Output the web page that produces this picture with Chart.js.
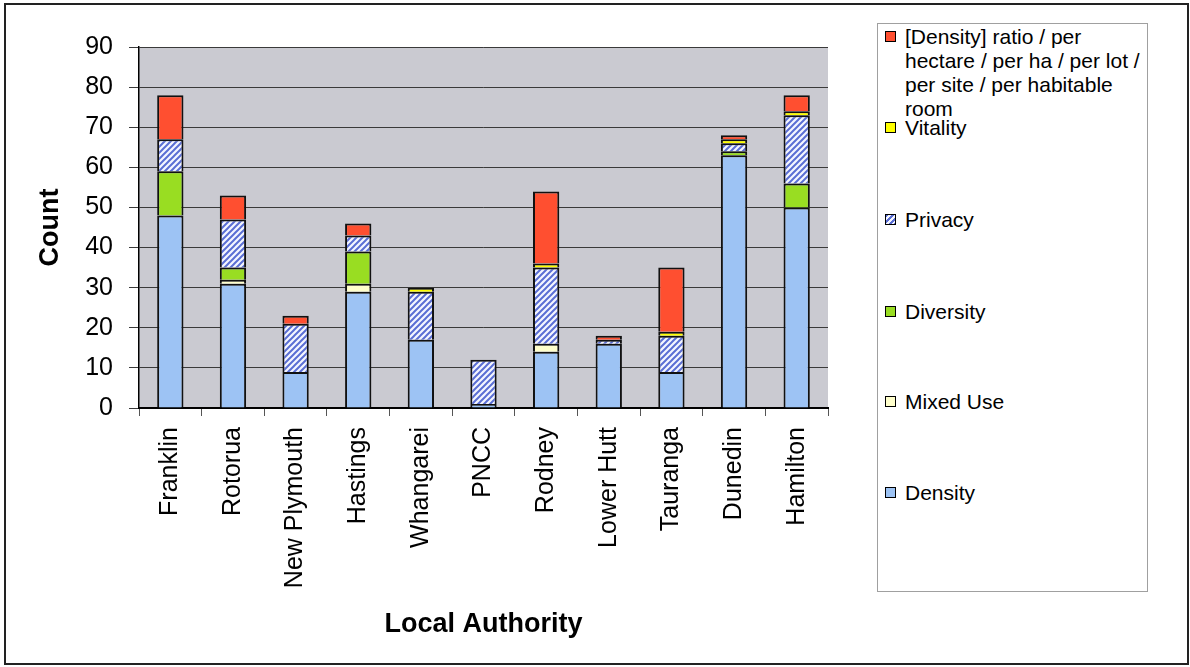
<!DOCTYPE html>
<html>
<head>
<meta charset="utf-8">
<script src="https://cdn.jsdelivr.net/npm/chart.js@4/dist/chart.umd.min.js"></script>
<style>
    body { margin: 0; background: #ffffff; font-family: 'Liberation Sans', Arial, sans-serif; }
    #wrap { position: relative; width: 1190px; height: 667px; }
    #chart { position: absolute; left: 0; top: 0; }
    #frame { position: absolute; left: 4px; top: 3px; width: 1181px; height: 658px; border: 2px solid #222; pointer-events: none; }
    #legend { position: absolute; left: 877px; top: 23px; width: 269px; height: 567px; border: 1px solid #a0a0a0; background: #fff; }
    .item { position: absolute; left: 7px; width: 262px; font-size: 21px; line-height: 24px; color: #000; }
    .swatch { position: absolute; left: 0; top: 6px; width: 9px; height: 9px; border: 1.5px solid #000; }
    .text { position: absolute; left: 20px; width: 240px; }
</style>
</head>
<body>
<div id="wrap">
    <canvas id="chart" width="1190" height="667"></canvas>
    <div id="frame"></div>
    <div id="legend"></div>
</div>
<script>
// Values
const categories = ['Franklin', 'Rotorua', 'New Plymouth', 'Hastings', 'Whangarei', 'PNCC',
    'Rodney', 'Lower Hutt', 'Tauranga', 'Dunedin', 'Hamilton'];
const density   = [48, 31, 9, 29, 17, 1, 14, 16, 9, 63, 50];
const mixedUse  = [0, 1, 0, 2, 0, 0, 2, 0, 0, 0, 0];
const diversity = [11, 3, 0, 8, 0, 0, 0, 0, 0, 1, 6];
const privacy   = [8, 12, 12, 4, 12, 11, 19, 1, 9, 2, 17];
const vitality  = [0, 0, 0, 0, 1, 0, 1, 0, 1, 1, 1];
const ratio     = [11, 6, 2, 3, 0, 0, 18, 1, 16, 1, 4];
const yTicks    = [0, 10, 20, 30, 40, 50, 60, 70, 80, 90];

// hatched fill for Privacy
function makeHatch() {
    const c = document.createElement('canvas');
    c.width = 6; c.height = 6;
    const g = c.getContext('2d');
    g.fillStyle = '#f4f6ff';
    g.fillRect(0, 0, 6, 6);
    g.strokeStyle = '#5a6ed4';
    g.lineWidth = 2;
    g.beginPath();
    g.moveTo(0, 6); g.lineTo(6, 0);
    g.moveTo(-3, 3); g.lineTo(3, -3);
    g.moveTo(3, 9); g.lineTo(9, 3);
    g.stroke();
    return g.createPattern(c, 'repeat');
}

const series = [
    { label: 'Density', data: density, color: '#9dc3f4' },
    { label: 'Mixed Use', data: mixedUse, color: '#ffffcc' },
    { label: 'Diversity', data: diversity, color: '#99dd22' },
    { label: 'Privacy', data: privacy, color: makeHatch(), swatch: 'repeating-linear-gradient(135deg, #5a6ed4 0 2px, #f4f6ff 2px 4px)' },
    { label: 'Vitality', data: vitality, color: '#ffff00' },
    { label: '[Density] ratio / per hectare / per ha / per lot / per site / per habitable room', data: ratio, color: '#ff4f30' }
];

const plotBackground = {
    id: 'plotBackground',
    beforeDraw(chart) {
        const a = chart.chartArea;
        const ctx = chart.ctx;
        ctx.save();
        ctx.fillStyle = '#cacad1';
        ctx.fillRect(a.left, a.top, a.right - a.left, a.bottom - a.top);
        ctx.restore();
    }
};

const font = "'Liberation Sans', Arial, sans-serif";

new Chart(document.getElementById('chart'), {
    type: 'bar',
    data: {
        labels: categories,
        datasets: series.map(s => ({
            label: s.label,
            // empty segments are skipped so they leave no outline
            data: s.data.map(v => (v === 0 ? null : v)),
            backgroundColor: s.color,
            borderColor: '#111111',
            // no bottom edge: the segment below draws the separating line
            borderWidth: { top: 2, left: 2, right: 2, bottom: 0 },
            borderSkipped: false,
            barPercentage: 0.42,
            categoryPercentage: 1.0
        }))
    },
    plugins: [plotBackground],
    options: {
        responsive: false,
        animation: false,
        devicePixelRatio: 1,
        layout: { padding: { left: 0, top: 47, right: 362, bottom: 0 } },
        plugins: {
            legend: { display: false },
            tooltip: { enabled: false }
        },
        scales: {
            x: {
                stacked: true,
                afterFit: scale => { scale.height = 259; },
                grid: { drawOnChartArea: false, tickLength: 8, color: '#555555' },
                border: { color: '#000000', width: 2 },
                ticks: {
                    autoSkip: false,
                    minRotation: 90,
                    maxRotation: 90,
                    padding: 11,
                    color: '#000000',
                    font: { family: font, size: 25 }
                },
                title: {
                    display: true,
                    text: 'Local Authority',
                    color: '#000000',
                    padding: { top: 0, bottom: 26 },
                    font: { family: font, size: 27, weight: 'bold' }
                }
            },
            y: {
                stacked: true,
                min: 0,
                max: 90,
                afterFit: scale => { scale.width = 139; },
                afterBuildTicks: scale => { scale.ticks = yTicks.map(v => ({ value: v })); },
                grid: { color: '#3a3a3a', lineWidth: 1, tickLength: 10 },
                border: { color: '#000000', width: 1.5 },
                ticks: {
                    padding: 16,
                    color: '#000000',
                    font: { family: font, size: 25 }
                },
                title: {
                    display: true,
                    text: 'Count',
                    color: '#000000',
                    padding: { top: 34, bottom: 0 },
                    font: { family: font, size: 27, weight: 'bold' }
                }
            }
        }
    }
});

// legend, top entry first like the reference
const legendTops = [1, 92, 184, 276, 366, 457];
const legend = document.getElementById('legend');
series.slice().reverse().forEach((s, i) => {
    const item = document.createElement('div');
    item.className = 'item';
    item.style.top = legendTops[i] + 'px';
    const sw = document.createElement('div');
    sw.className = 'swatch';
    sw.style.background = s.swatch || s.color;
    const tx = document.createElement('div');
    tx.className = 'text';
    tx.textContent = s.label;
    item.appendChild(sw);
    item.appendChild(tx);
    legend.appendChild(item);
});
</script>
</body>
</html>
